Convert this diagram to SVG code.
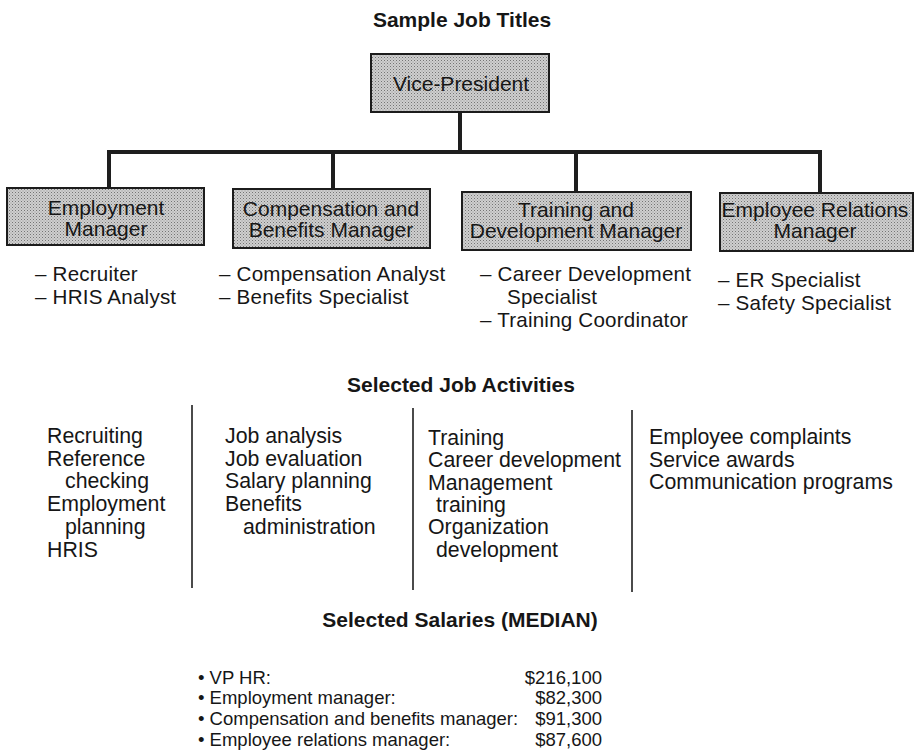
<svg xmlns="http://www.w3.org/2000/svg" width="916" height="756" viewBox="0 0 916 756">
  <defs>
    <!-- fine halftone fill used by every title box -->
    <pattern id="halftone" width="3" height="3" patternUnits="userSpaceOnUse">
      <rect width="3" height="3" fill="#cfcfcf"/>
      <rect x="0" y="0" width="1" height="1" fill="#747474"/>
      <rect x="1.5" y="1.5" width="1" height="1" fill="#959595"/>
    </pattern>
    <style>
      text { font-family: "Liberation Sans", Arial, Helvetica, sans-serif; fill: #161616; }
      .head { font-size: 21px; font-weight: bold; text-anchor: middle; }
      .box { fill: url(#halftone); stroke: #1c1c1c; stroke-width: 2; }
      .boxtext { font-size: 21px; text-anchor: middle; }
      .item { font-size: 21.3px; }
      .sub { font-size: 20.6px; letter-spacing: 0.2px; }
      .sal { font-size: 18.5px; }
      .amt { font-size: 18.5px; text-anchor: end; }
      .link { stroke: #1e1e1e; stroke-width: 4; fill: none; }
      .divider { stroke: #1e1e1e; stroke-width: 1.6; }
    </style>
  </defs>

  <rect width="916" height="756" fill="#ffffff"/>

  <!-- section headings -->
  <text class="head" x="462" y="27">Sample Job Titles</text>
  <text class="head" x="461" y="392">Selected Job Activities</text>
  <text class="head" x="460" y="627">Selected Salaries (MEDIAN)</text>

  <!-- organisation chart connectors -->
  <g id="connectors">
    <line class="link" x1="460" y1="112" x2="460" y2="152"/>
    <line class="link" x1="107" y1="152" x2="822" y2="152"/>
    <line class="link" x1="109" y1="150" x2="109" y2="188"/>
    <line class="link" x1="333" y1="150" x2="333" y2="189"/>
    <line class="link" x1="576" y1="150" x2="576" y2="192"/>
    <line class="link" x1="820" y1="150" x2="820" y2="193"/>
  </g>

  <g id="vice-president">
    <rect class="box" x="371" y="54" width="178" height="58"/>
    <text class="boxtext" x="461" y="91">Vice-President</text>
  </g>

  <g id="employment-manager">
    <rect class="box" x="7" y="188" width="197" height="57"/>
    <text class="boxtext" x="106" y="215">Employment</text>
    <text class="boxtext" x="106" y="236">Manager</text>
    <text class="sub" x="35" y="281">– Recruiter</text>
    <text class="sub" x="35" y="304">– HRIS Analyst</text>
  </g>

  <g id="compensation-manager">
    <rect class="box" x="233" y="189" width="197" height="59"/>
    <text class="boxtext" x="331" y="216">Compensation and</text>
    <text class="boxtext" x="331" y="237">Benefits Manager</text>
    <text class="sub" x="219" y="281">– Compensation Analyst</text>
    <text class="sub" x="219" y="304">– Benefits Specialist</text>
  </g>

  <g id="training-manager">
    <rect class="box" x="462" y="192" width="229" height="58"/>
    <text class="boxtext" x="576" y="217">Training and</text>
    <text class="boxtext" x="576" y="238">Development Manager</text>
    <text class="sub" x="480" y="281">– Career Development</text>
    <text class="sub" x="507" y="304">Specialist</text>
    <text class="sub" x="480" y="327">– Training Coordinator</text>
  </g>

  <g id="employee-relations-manager">
    <rect class="box" x="720" y="193" width="193" height="58"/>
    <text class="boxtext" x="815" y="217">Employee Relations</text>
    <text class="boxtext" x="815" y="238">Manager</text>
    <text class="sub" x="718" y="287">– ER Specialist</text>
    <text class="sub" x="718" y="310">– Safety Specialist</text>
  </g>

  <!-- job activity columns -->
  <g id="activities">
    <line class="divider" x1="192" y1="405" x2="192" y2="588"/>
    <line class="divider" x1="413" y1="408" x2="413" y2="590"/>
    <line class="divider" x1="632" y1="410" x2="632" y2="592"/>

    <text class="item" x="47" y="443">Recruiting</text>
    <text class="item" x="47" y="466">Reference</text>
    <text class="item" x="65" y="488">checking</text>
    <text class="item" x="47" y="511">Employment</text>
    <text class="item" x="65" y="534">planning</text>
    <text class="item" x="47" y="557">HRIS</text>

    <text class="item" x="225" y="443">Job analysis</text>
    <text class="item" x="225" y="466">Job evaluation</text>
    <text class="item" x="225" y="488">Salary planning</text>
    <text class="item" x="225" y="511">Benefits</text>
    <text class="item" x="243" y="534">administration</text>

    <text class="item" x="428" y="445">Training</text>
    <text class="item" x="428" y="467">Career development</text>
    <text class="item" x="428" y="490">Management</text>
    <text class="item" x="436" y="512">training</text>
    <text class="item" x="428" y="534">Organization</text>
    <text class="item" x="436" y="557">development</text>

    <text class="item" x="649" y="444">Employee complaints</text>
    <text class="item" x="649" y="467">Service awards</text>
    <text class="item" x="649" y="489">Communication programs</text>
  </g>

  <!-- median salaries -->
  <g id="salaries">
    <text class="sal" x="198" y="684">• VP HR:</text>
    <text class="sal" x="198" y="704">• Employment manager:</text>
    <text class="sal" x="198" y="725">• Compensation and benefits manager:</text>
    <text class="sal" x="198" y="746">• Employee relations manager:</text>
    <text class="amt" x="602" y="684">$216,100</text>
    <text class="amt" x="602" y="704">$82,300</text>
    <text class="amt" x="602" y="725">$91,300</text>
    <text class="amt" x="602" y="746">$87,600</text>
  </g>
</svg>
